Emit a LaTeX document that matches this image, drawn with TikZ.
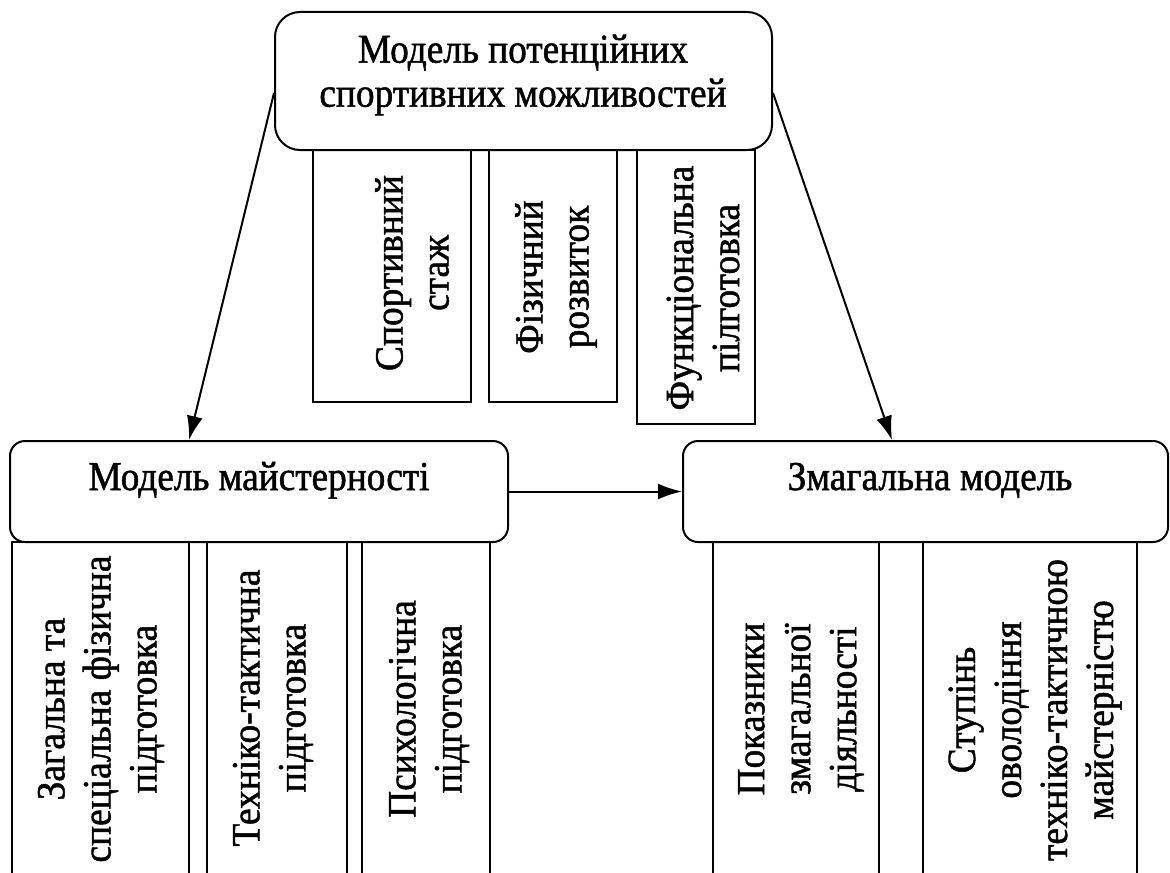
\documentclass[tikz,border=0pt]{standalone}
\usepackage{fontspec}
\setmainfont{Liberation Serif}[FakeBold=1.2]
\newfontfamily\hfont{Liberation Serif}[FakeBold=1.2,FakeStretch=0.91]
\newfontfamily\vfont{Liberation Serif}[FakeBold=1.2,FakeStretch=0.935]
\usetikzlibrary{arrows.meta,calc}
\begin{document}
\begin{tikzpicture}[x=0.5pt,y=-0.5pt,
  mainbox/.style={draw,line width=1pt,rounded corners=#1,inner sep=0pt,fill=white},
  mainbox/.default=7.5pt,
  subbox/.style={draw,line width=1pt,inner sep=0pt},
  htxt/.style={inner sep=0pt,align=center,font=\hfont\fontsize{20.5}{22}\selectfont},
  vtxt/.style={inner sep=0pt,align=center,rotate=90,font=\vfont\fontsize{20}{23}\selectfont},
  arr/.style={line width=1pt,-{Latex[length=12pt,width=8pt]}}]
\clip (0,0) rectangle (1170,872);
% sub boxes of the top box
\node[subbox,minimum width=79pt,minimum height=126pt] (s1) at (392,276) {};
\node[subbox,minimum width=64pt,minimum height=126pt] (s2) at (553,276) {};
\node[subbox,minimum width=59pt,minimum height=137pt] (s3) at (696,287) {};
% sub boxes of the lower boxes
\node[subbox,minimum width=88.5pt,minimum height=179pt] (b1) at (100.5,721) {};
\node[subbox,minimum width=70pt,minimum height=179pt] (b2) at (277,721) {};
\node[subbox,minimum width=64pt,minimum height=179pt] (b3) at (426,721) {};
\node[subbox,minimum width=83pt,minimum height=179pt] (b4) at (796,721) {};
\node[subbox,minimum width=107pt,minimum height=179pt] (b5) at (1030,721) {};
% main boxes
\node[mainbox=12.5pt,minimum width=248.5pt,minimum height=69pt] (top) at (523.5,81) {};
\node[mainbox,minimum width=249pt,minimum height=50.5pt] (ml) at (259,491.5) {};
\node[mainbox,minimum width=242.5pt,minimum height=50.5pt] (mr) at (925.5,491.5) {};
% texts
\node[htxt] (toptxt) at (523,75) {Модель потенційних\\спортивних можливостей};
\node[htxt,anchor=base] (mltxt) at (259,490) {Модель майстерності};
\node[htxt,anchor=base] (mrtxt) at (930,490) {Змагальна модель};
\node[vtxt] (s1t) at (412,273) {Спортивний\\стаж};
\node[vtxt] (s2t) at (556,277) {Фізичний\\розвиток};
\node[vtxt] (s3t) at (703,288) {Функціональна\\пілготовка};
\node[vtxt] (b1t) at (101,709) {Загальна та\\спеціальна фізична\\підготовка};
\node[vtxt] (b2t) at (273,708) {Техніко-тактична\\підготовка};
\node[vtxt] (b3t) at (429,709) {Психологічна\\підготовка};
\node[vtxt] (b4t) at (801,709) {Показники\\змагальної\\діяльності};
\node[vtxt] (b5t) at (1035,710) {Ступінь\\оволодіння\\техніко-тактичною\\майстерністю};
% connectors
\draw[arr] ([yshift=-6pt]top.west) -- ([xshift=-35pt]ml.north);
\draw[arr] ([yshift=-6pt]top.east) -- ([xshift=-16.75pt]mr.north);
\draw[arr] (ml.east) -- (mr.west);
\end{tikzpicture}
\end{document}
